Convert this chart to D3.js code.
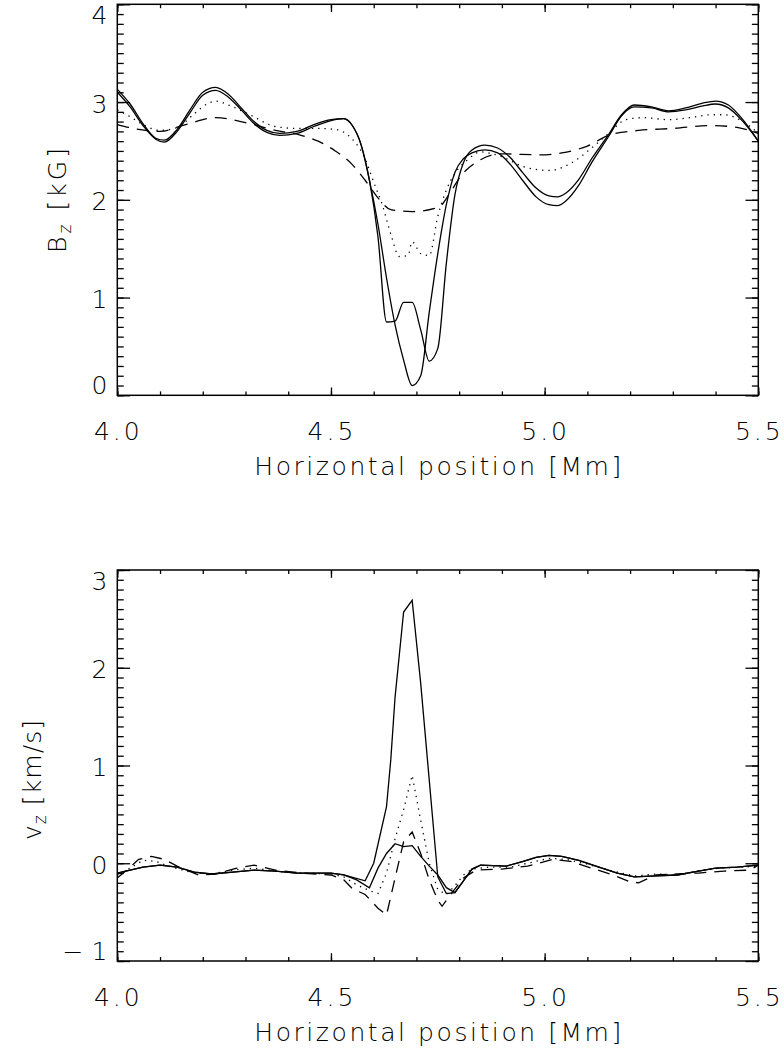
<!DOCTYPE html>
<html>
<head>
<meta charset="utf-8">
<script src="https://cdn.jsdelivr.net/npm/d3@7"></script>
<style>
  body { margin: 0; background: #fff; }
  svg text { font-family: "DejaVu Sans", sans-serif; font-weight: 200; fill: #000; }
</style>
</head>
<body>
<svg id="chart" width="784" height="1053"></svg>
<script>
// x positions in Mm
const xMajor = [4.0, 4.5, 5.0, 5.5];

const bzSolidA = [[4.00,3.13],[4.03,2.98],[4.06,2.78],[4.09,2.63],[4.11,2.61],[4.14,2.72],[4.17,2.92],[4.20,3.10],[4.23,3.15],[4.26,3.08],[4.29,2.94],[4.32,2.80],[4.35,2.71],[4.38,2.68],[4.42,2.70],[4.46,2.77],[4.50,2.82],[4.53,2.83],[4.55,2.76],[4.57,2.57],[4.59,2.20],[4.61,1.62],[4.63,0.75],[4.65,0.76],[4.67,0.95],[4.69,0.95],[4.71,0.67],[4.73,0.35],[4.75,0.48],[4.77,1.35],[4.79,2.05],[4.81,2.38],[4.83,2.51],[4.86,2.56],[4.89,2.53],[4.92,2.43],[4.95,2.27],[4.98,2.12],[5.01,2.04],[5.03,2.03],[5.05,2.07],[5.08,2.21],[5.11,2.42],[5.15,2.67],[5.18,2.87],[5.21,2.97],[5.25,2.95],[5.29,2.91],[5.33,2.94],[5.37,2.99],[5.40,3.01],[5.43,2.97],[5.46,2.84],[5.50,2.60]];
const bzSolidB = [[4.00,3.10],[4.03,2.95],[4.06,2.76],[4.09,2.62],[4.11,2.59],[4.14,2.70],[4.17,2.89],[4.20,3.07],[4.23,3.12],[4.26,3.05],[4.29,2.92],[4.32,2.78],[4.35,2.69],[4.38,2.66],[4.42,2.68],[4.46,2.75],[4.50,2.81],[4.53,2.83],[4.55,2.76],[4.57,2.57],[4.59,2.20],[4.61,1.75],[4.63,1.20],[4.65,0.72],[4.67,0.36],[4.69,0.10],[4.71,0.20],[4.73,0.85],[4.75,1.45],[4.77,1.95],[4.79,2.28],[4.81,2.42],[4.83,2.48],[4.86,2.51],[4.89,2.48],[4.92,2.36],[4.95,2.19],[4.98,2.03],[5.01,1.95],[5.03,1.94],[5.05,1.99],[5.08,2.15],[5.11,2.38],[5.15,2.65],[5.18,2.86],[5.21,2.95],[5.25,2.94],[5.29,2.90],[5.33,2.92],[5.37,2.96],[5.40,2.98],[5.43,2.94],[5.46,2.82],[5.50,2.60]];
const bzDotted = [[4.00,2.92],[4.03,2.85],[4.06,2.77],[4.10,2.71],[4.14,2.74],[4.18,2.88],[4.21,2.98],[4.23,3.01],[4.26,2.97],[4.31,2.87],[4.37,2.75],[4.42,2.73],[4.47,2.73],[4.51,2.72],[4.55,2.62],[4.58,2.42],[4.60,2.18],[4.62,1.95],[4.64,1.65],[4.66,1.42],[4.68,1.43],[4.69,1.57],[4.71,1.45],[4.73,1.43],[4.75,1.83],[4.77,2.10],[4.79,2.27],[4.82,2.41],[4.85,2.49],[4.90,2.44],[4.95,2.34],[5.01,2.30],[5.06,2.37],[5.11,2.53],[5.15,2.68],[5.19,2.82],[5.23,2.84],[5.29,2.82],[5.34,2.84],[5.39,2.87],[5.42,2.87],[5.46,2.81],[5.50,2.68]];
const bzDashed = [[4.00,2.77],[4.05,2.72],[4.10,2.70],[4.16,2.77],[4.23,2.84],[4.30,2.79],[4.37,2.71],[4.43,2.66],[4.47,2.60],[4.51,2.50],[4.55,2.36],[4.58,2.20],[4.61,2.02],[4.64,1.90],[4.69,1.88],[4.75,1.92],[4.78,2.08],[4.80,2.22],[4.85,2.41],[4.90,2.47],[4.99,2.46],[5.04,2.48],[5.10,2.55],[5.15,2.66],[5.22,2.71],[5.30,2.73],[5.39,2.76],[5.45,2.74],[5.50,2.68]];

const vzSolidA = [[4.00,-0.10],[4.03,-0.07],[4.06,-0.04],[4.10,-0.02],[4.14,-0.04],[4.18,-0.09],[4.22,-0.11],[4.27,-0.09],[4.32,-0.07],[4.37,-0.08],[4.42,-0.10],[4.50,-0.10],[4.53,-0.12],[4.58,-0.18],[4.60,0.00],[4.63,0.58],[4.64,1.06],[4.65,1.70],[4.67,2.57],[4.69,2.69],[4.71,1.84],[4.73,0.85],[4.75,-0.14],[4.77,-0.31],[4.79,-0.30],[4.81,-0.18],[4.83,-0.06],[4.85,-0.02],[4.91,-0.03],[4.95,0.02],[4.98,0.06],[5.01,0.08],[5.04,0.07],[5.08,0.03],[5.12,-0.03],[5.17,-0.10],[5.21,-0.14],[5.26,-0.13],[5.31,-0.12],[5.36,-0.08],[5.40,-0.05],[5.45,-0.04],[5.50,-0.02]];
const vzSolidB = [[4.00,-0.10],[4.03,-0.07],[4.06,-0.04],[4.10,-0.02],[4.14,-0.04],[4.18,-0.09],[4.22,-0.11],[4.27,-0.09],[4.32,-0.07],[4.37,-0.08],[4.42,-0.10],[4.50,-0.10],[4.53,-0.12],[4.56,-0.17],[4.59,-0.25],[4.61,-0.05],[4.63,0.10],[4.65,0.20],[4.67,0.17],[4.69,0.18],[4.71,0.07],[4.73,-0.03],[4.75,-0.12],[4.77,-0.25],[4.79,-0.30],[4.81,-0.18],[4.83,-0.06],[4.85,-0.02],[4.91,-0.03],[4.95,0.02],[4.98,0.06],[5.01,0.08],[5.04,0.07],[5.08,0.03],[5.12,-0.03],[5.17,-0.10],[5.21,-0.14],[5.26,-0.13],[5.31,-0.12],[5.36,-0.08],[5.40,-0.05],[5.45,-0.04],[5.50,-0.02]];
const vzDotted = [[4.00,-0.12],[4.03,-0.05],[4.06,0.03],[4.09,0.02],[4.12,-0.03],[4.17,-0.09],[4.22,-0.11],[4.27,-0.07],[4.32,-0.05],[4.37,-0.08],[4.42,-0.10],[4.50,-0.11],[4.53,-0.14],[4.56,-0.22],[4.59,-0.28],[4.61,-0.31],[4.63,-0.10],[4.65,0.25],[4.67,0.55],[4.69,0.90],[4.71,0.44],[4.73,0.00],[4.75,-0.27],[4.77,-0.32],[4.79,-0.23],[4.81,-0.12],[4.83,-0.06],[4.87,-0.04],[4.92,-0.04],[4.96,0.00],[5.01,0.05],[5.05,0.04],[5.10,-0.01],[5.15,-0.07],[5.21,-0.13],[5.26,-0.11],[5.31,-0.12],[5.36,-0.08],[5.41,-0.05],[5.46,-0.04],[5.50,-0.03]];
const vzDashed = [[4.00,-0.15],[4.03,-0.04],[4.05,0.04],[4.08,0.07],[4.11,0.04],[4.14,-0.03],[4.19,-0.12],[4.23,-0.11],[4.28,-0.05],[4.32,-0.02],[4.37,-0.07],[4.43,-0.10],[4.50,-0.12],[4.53,-0.17],[4.55,-0.26],[4.58,-0.32],[4.61,-0.46],[4.63,-0.53],[4.65,-0.15],[4.67,0.22],[4.69,0.32],[4.71,0.10],[4.73,-0.17],[4.75,-0.38],[4.76,-0.44],[4.78,-0.32],[4.81,-0.15],[4.84,-0.07],[4.90,-0.06],[4.96,-0.03],[5.02,0.04],[5.06,0.02],[5.11,-0.05],[5.16,-0.12],[5.20,-0.19],[5.22,-0.20],[5.26,-0.12],[5.31,-0.11],[5.36,-0.10],[5.42,-0.08],[5.48,-0.07],[5.50,-0.02]];

const bzTicks = [0, 1, 2, 3, 4];
const vzTicks = [-1, 0, 1, 2, 3];

const svg = d3.select("#chart");
const left = 117.3, right = 758.3;
const x = d3.scaleLinear().domain([4.0, 5.5]).range([left, right]);
const xMinor = d3.range(40, 56).map(d => d / 10);

function drawPanel(top, bottom, yDomain, yTicks, series, curve, yTitle, titleStart, titleLen, titleX) {
  const y = d3.scaleLinear().domain(yDomain).range([bottom, top]);
  const g = svg.append("g");
  const h = bottom - top;
  const w = right - left;
  const yMinor = d3.range(yDomain[0] * 10, yDomain[1] * 10 + 1).map(d => d / 10);

  // ticks, IDL style: all inward, major ~2% of plot size
  const axes = [
    [d3.axisBottom(x), `translate(0,${bottom})`, xMajor, xMinor, 0.02 * h],
    [d3.axisTop(x), `translate(0,${top})`, xMajor, xMinor, 0.02 * h],
    [d3.axisLeft(y), `translate(${left},0)`, yTicks, yMinor, 0.02 * w],
    [d3.axisRight(y), `translate(${right},0)`, yTicks, yMinor, 0.02 * w]
  ];
  axes.forEach(([ax, tr, major, minor, len]) => {
    g.append("g").attr("transform", tr)
      .call(ax.tickValues(minor).tickSizeInner(-len / 2).tickSizeOuter(0).tickFormat(""))
      .call(s => s.select(".domain").remove());
    g.append("g").attr("transform", tr)
      .call(ax.tickValues(major).tickSizeInner(-len).tickSizeOuter(0).tickFormat(""))
      .call(s => s.select(".domain").remove());
  });
  g.selectAll(".tick line").attr("stroke", "#000").attr("stroke-width", 1.3);

  g.append("rect")
    .attr("x", left).attr("y", top).attr("width", w).attr("height", h)
    .attr("fill", "none").attr("stroke", "#000").attr("stroke-width", 1.5);

  // tick labels
  g.selectAll(".xl").data(xMajor).join("text")
    .attr("x", d => x(d) + 1).attr("y", bottom + 36)
    .attr("text-anchor", "middle").attr("dominant-baseline", "central")
    .attr("font-size", 25).attr("letter-spacing", 3)
    .text(d3.format(".1f"));

  g.selectAll(".yl").data(yTicks).join("text")
    .attr("x", left - 10)
    .attr("y", (d, i) => y(d) + (i === 0 ? -10 : i === yTicks.length - 1 ? 11 : 2))
    .attr("text-anchor", "end").attr("dominant-baseline", "central")
    .attr("font-size", 25)
    .text(d => d < 0 ? "\u2212 " + Math.abs(d) : d);

  // x title
  g.append("text")
    .attr("x", (left + right) / 2).attr("y", bottom + 71)
    .attr("text-anchor", "middle").attr("dominant-baseline", "central")
    .attr("font-size", 25)
    .attr("textLength", 367).attr("lengthAdjust", "spacing")
    .text("Horizontal position [Mm]");

  // y title (rotated)
  const yt = g.append("text")
    .attr("transform", `translate(${titleX},${titleStart}) rotate(-90)`)
    .attr("font-size", 25)
    .attr("textLength", titleLen).attr("lengthAdjust", "spacing");
  yt.append("tspan").text(yTitle[0]);
  yt.append("tspan").attr("font-size", 17).attr("dy", 5).text("z");
  yt.append("tspan").attr("dy", -5).text(" [" + yTitle[1] + "]");

  const line = d3.line().x(d => x(d[0])).y(d => y(d[1])).curve(curve);
  series.forEach(([data, dash]) => {
    g.append("path")
      .datum(data)
      .attr("d", line)
      .attr("fill", "none")
      .attr("stroke", "#000")
      .attr("stroke-width", 1.3)
      .attr("stroke-dasharray", dash);
  });
}

drawPanel(4.3, 395.3, [0, 4], bzTicks,
  [[bzSolidA, null], [bzSolidB, null], [bzDotted, "1.3,5"], [bzDashed, "12,8"]],
  d3.curveMonotoneX, ["B", "kG"], 253, 105, 66);

drawPanel(570, 961, [-1, 3], vzTicks,
  [[vzSolidA, null], [vzSolidB, null], [vzDotted, "1.3,5"], [vzDashed, "12,8"]],
  d3.curveLinear, ["v", "km/s"], 840, 120, 41);
</script>
</body>
</html>
